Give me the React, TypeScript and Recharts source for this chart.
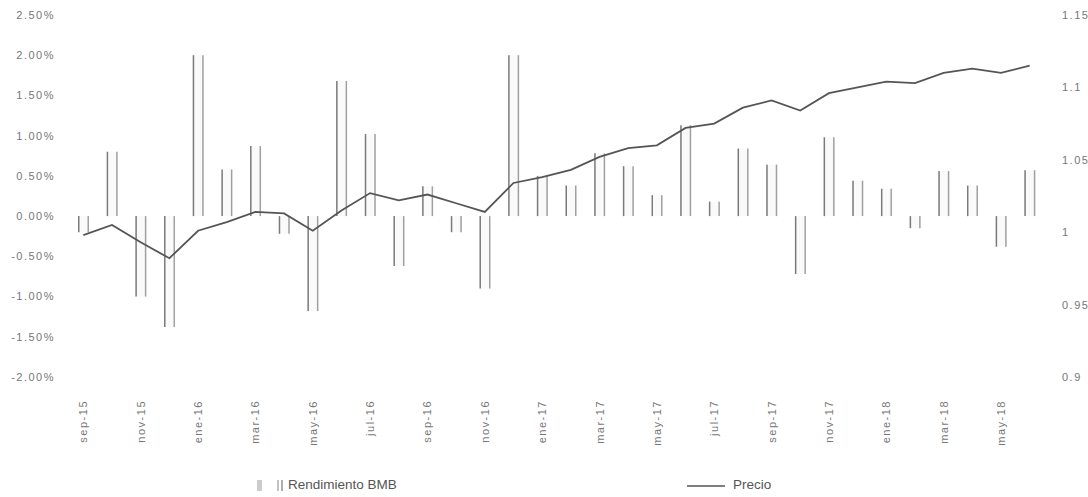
import React from 'react';
import { ComposedChart, Bar, Line, XAxis, YAxis, Legend } from 'recharts';

const meses = [
  'sep-15', 'oct-15', 'nov-15', 'dic-15', 'ene-16', 'feb-16', 'mar-16', 'abr-16', 'may-16',
  'jun-16', 'jul-16', 'ago-16', 'sep-16', 'oct-16', 'nov-16', 'dic-16', 'ene-17', 'feb-17',
  'mar-17', 'abr-17', 'may-17', 'jun-17', 'jul-17', 'ago-17', 'sep-17', 'oct-17', 'nov-17',
  'dic-17', 'ene-18', 'feb-18', 'mar-18', 'abr-18', 'may-18', 'jun-18',
];

// rendimiento mensual, en %
const rendimiento = [
  -0.2, 0.8, -1.0, -1.38, 2.0, 0.58, 0.87, -0.22, -1.18, 1.68, 1.02, -0.62, 0.37, -0.2, -0.9,
  2.0, 0.5, 0.38, 0.78, 0.62, 0.26, 1.13, 0.18, 0.84, 0.64, -0.72, 0.98, 0.44, 0.34, -0.15,
  0.56, 0.38, -0.38, 0.57,
];

const precio = [
  0.998, 1.005, 0.993, 0.982, 1.001, 1.007, 1.014, 1.013, 1.001, 1.015, 1.027, 1.022, 1.026,
  1.02, 1.014, 1.034, 1.038, 1.043, 1.052, 1.058, 1.06, 1.072, 1.075, 1.086, 1.091, 1.084,
  1.096, 1.1, 1.104, 1.103, 1.11, 1.113, 1.11, 1.115,
];

const ticksIzq = [-2, -1.5, -1, -0.5, 0, 0.5, 1, 1.5, 2, 2.5];
const ticksDer = [0.9, 0.95, 1, 1.05, 1.1, 1.15];

const data = meses.map((mes, i) => ({ mes, rendimiento: rendimiento[i], precio: precio[i] }));

const gris = '#555';
const fuente = '"Liberation Sans", Arial, sans-serif';

const MesTick = (props: any) => {
  const { x, y, payload } = props;
  return (
    <text
      transform={`translate(${x + 4},${y + 15}) rotate(-90)`}
      textAnchor="end"
      fontSize={11}
      letterSpacing={1.5}
      fill="#777"
      fontFamily={fuente}
    >
      {payload.value}
    </text>
  );
};

// barra hueca: solo se ven los bordes verticales, como en el escaneo
const BarraHueca = (props: any) => {
  const { x, y, width, height } = props;
  const top = height < 0 ? y + height : y;
  const h = Math.abs(height);
  return (
    <g>
      <rect x={x} y={top} width={width} height={h} fill="#fafafa" />
      <line x1={x + 0.75} y1={top} x2={x + 0.75} y2={top + h} stroke="#7a7a7a" strokeWidth={1.5} />
      <line x1={x + width - 0.75} y1={top} x2={x + width - 0.75} y2={top + h} stroke="#a0a0a0" strokeWidth={1.5} />
    </g>
  );
};

const Leyenda = () => (
  <div style={{ position: 'relative', width: 1088, height: 30, fontFamily: fuente, fontSize: 13.5, color: gris }}>
    <svg width={1088} height={30} style={{ position: 'absolute', left: 0, top: 0 }}>
      <rect x={257} y={13} width={5} height={11} fill="#ccc" />
      <line x1={278} y1={13} x2={278} y2={24} stroke="#999" strokeWidth={1.2} />
      <line x1={282} y1={13} x2={282} y2={24} stroke="#777" strokeWidth={1.2} />
      <line x1={687} y1={19} x2={725} y2={19} stroke={gris} strokeWidth={1.5} />
    </svg>
    <span style={{ position: 'absolute', left: 288, top: 10 }}>Rendimiento BMB</span>
    <span style={{ position: 'absolute', left: 733, top: 10 }}>Precio</span>
  </div>
);

export default function App() {
  return (
    <div style={{ position: 'absolute', left: 0, top: 0, background: '#fff' }}>
      <ComposedChart
        width={1088}
        height={497}
        data={data}
        margin={{ top: 15, right: 0, bottom: 0, left: 0 }}
        style={{ fontFamily: fuente }}
      >
        <XAxis
          dataKey="mes"
          interval={1}
          axisLine={false}
          tickLine={false}
          height={90}
          tick={<MesTick />}
        />
        <YAxis
          yAxisId="izq"
          domain={[-2, 2.5]}
          ticks={ticksIzq}
          width={69}
          axisLine={false}
          tickLine={false}
          tickSize={0}
          tickMargin={14}
          tickFormatter={(v: number) => `${v.toFixed(2)}%`}
          tick={{ fontSize: 11, fill: '#777', letterSpacing: 1.5 }}
        />
        <YAxis
          yAxisId="der"
          orientation="right"
          domain={[0.9, 1.15]}
          ticks={ticksDer}
          width={44}
          axisLine={false}
          tickLine={false}
          tickSize={0}
          tickMargin={18}
          tickFormatter={(v: number) => String(v)}
          tick={{ fontSize: 11, fill: '#777', letterSpacing: 1.5 }}
        />
        <Legend verticalAlign="bottom" height={30} content={<Leyenda />} />
        <Bar
          yAxisId="izq"
          dataKey="rendimiento"
          name="Rendimiento BMB"
          barSize={11}
          fill="#fafafa"
          shape={<BarraHueca />}
          isAnimationActive={false}
        />
        <Line
          yAxisId="der"
          dataKey="precio"
          name="Precio"
          type="linear"
          stroke={gris}
          strokeWidth={1.8}
          dot={false}
          isAnimationActive={false}
        />
      </ComposedChart>
    </div>
  );
}
